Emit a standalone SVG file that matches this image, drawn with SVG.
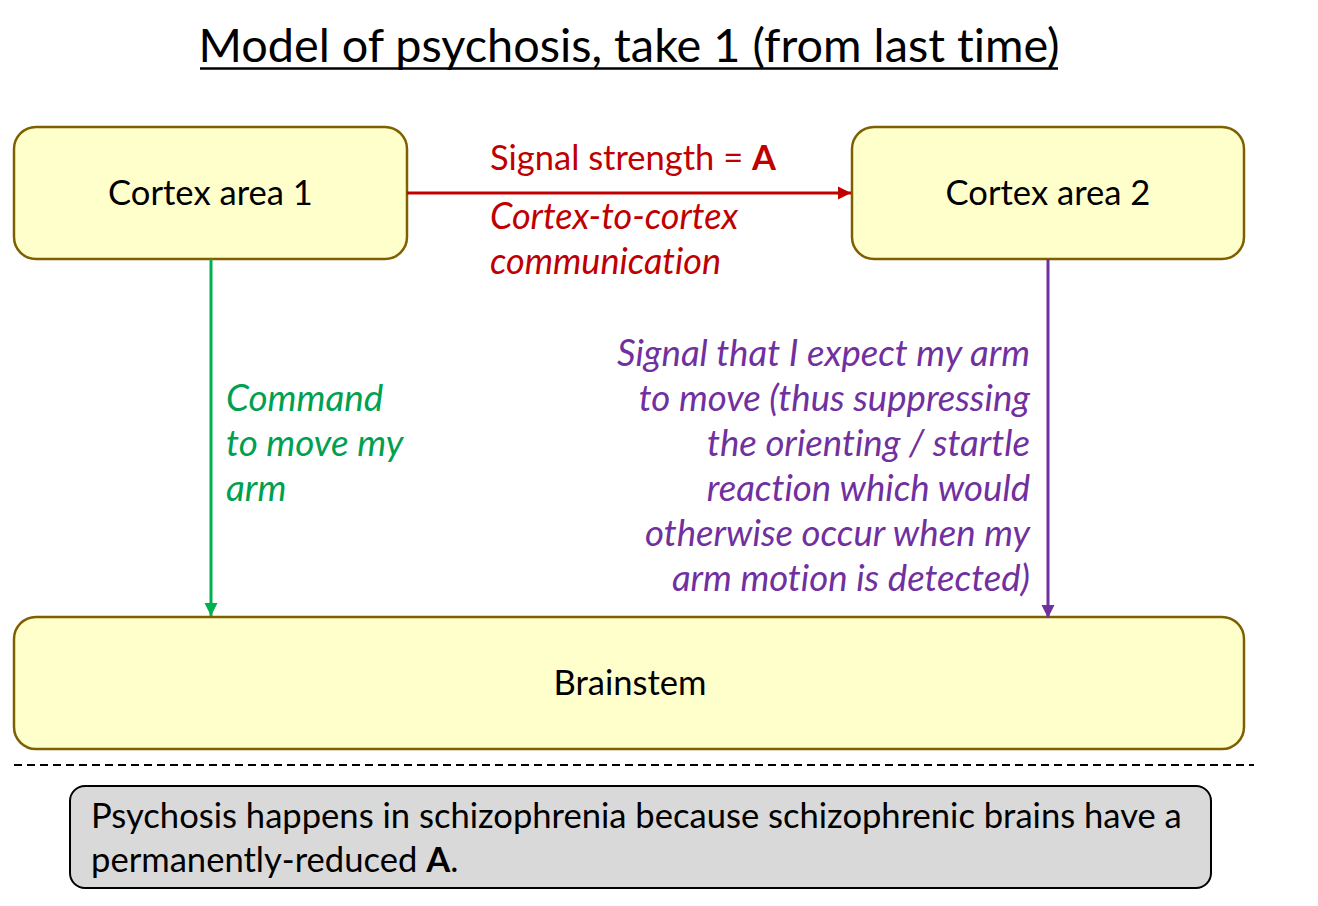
<svg xmlns="http://www.w3.org/2000/svg" width="1318" height="906" viewBox="0 0 1318 906">
<defs>
<style>
text{font-family:Lato,"Open Sans","Liberation Sans",sans-serif;font-variant-ligatures:none;font-feature-settings:"liga" 0,"clig" 0,"dlig" 0,"calt" 0;}
.box{fill:#FFFFCC;stroke:#7F6000;stroke-width:2.5;}
.lbl{font-size:34.6px;fill:#000;text-anchor:middle;}
.red{fill:#C00000;font-size:34.5px;}
.redi{fill:#C00000;font-size:36px;font-style:italic;}
.green{fill:#00A050;font-size:36.8px;font-style:italic;}
.purple{fill:#7030A0;font-size:36.6px;font-style:italic;text-anchor:end;}
</style>
<marker id="ar" viewBox="0 0 10 10" refX="10" refY="5" markerWidth="4.5" markerHeight="4.5" orient="auto" markerUnits="strokeWidth"><path d="M0,0L10,5L0,10z" fill="#C00000"/></marker>
<marker id="ag" viewBox="0 0 10 10" refX="10" refY="5" markerWidth="4.5" markerHeight="4.5" orient="auto" markerUnits="strokeWidth"><path d="M0,0L10,5L0,10z" fill="#00B050"/></marker>
<marker id="ap" viewBox="0 0 10 10" refX="10" refY="5" markerWidth="4.5" markerHeight="4.5" orient="auto" markerUnits="strokeWidth"><path d="M0,0L10,5L0,10z" fill="#7030A0"/></marker>
</defs>
<rect width="1318" height="906" fill="#fff"/>
<g id="title">
<text x="629" y="62" font-size="46.8" text-anchor="middle" fill="#000">Model of psychosis, take 1 (from last time)</text>
<line x1="200" y1="68.5" x2="1058" y2="68.5" stroke="#000" stroke-width="2.5"/>
</g>
<g id="cortex1">
<rect class="box" x="14" y="127" width="393" height="132" rx="22"/>
<text class="lbl" x="210.5" y="205">Cortex area 1</text>
</g>
<g id="cortex2">
<rect class="box" x="852" y="127" width="392" height="132" rx="22"/>
<text class="lbl" x="1048" y="205">Cortex area 2</text>
</g>
<g id="brainstem">
<rect class="box" x="14" y="617" width="1230" height="132" rx="22"/>
<text class="lbl" x="630" y="695">Brainstem</text>
</g>
<g id="connectors">
<line x1="407" y1="193" x2="851" y2="193" stroke="#C00000" stroke-width="3" marker-end="url(#ar)"/>
<line x1="211" y1="259" x2="211" y2="616" stroke="#00B050" stroke-width="3" marker-end="url(#ag)"/>
<line x1="1048" y1="259" x2="1048" y2="618" stroke="#7030A0" stroke-width="3" marker-end="url(#ap)"/>
</g>
<g id="labels">
<text class="red" x="490" y="170">Signal strength = <tspan font-weight="bold">A</tspan></text>
<text class="redi" x="490" y="229">Cortex-to-cortex</text>
<text class="redi" x="490" y="274">communication</text>
<text class="green" x="226" y="411">Command</text>
<text class="green" x="226" y="456">to move my</text>
<text class="green" x="226" y="501">arm</text>
<text class="purple" x="1030" y="366">Signal that I expect my arm</text>
<text class="purple" x="1030" y="411">to move (thus suppressing</text>
<text class="purple" x="1030" y="456">the orienting / startle</text>
<text class="purple" x="1030" y="501">reaction which would</text>
<text class="purple" x="1030" y="546">otherwise occur when my</text>
<text class="purple" x="1030" y="591">arm motion is detected)</text>
</g>
<line id="divider" x1="14" y1="765" x2="1254" y2="765" stroke="#000" stroke-width="2" stroke-dasharray="8,5"/>
<g id="note">
<rect x="70" y="786" width="1141" height="102" rx="15" fill="#D9D9D9" stroke="#000" stroke-width="2"/>
<text x="91" y="828" font-size="34.6" fill="#000">Psychosis happens in schizophrenia because schizophrenic brains have a</text>
<text x="91" y="872" font-size="34.6" fill="#000">permanently-reduced <tspan font-weight="bold">A</tspan>.</text>
</g>
</svg>
